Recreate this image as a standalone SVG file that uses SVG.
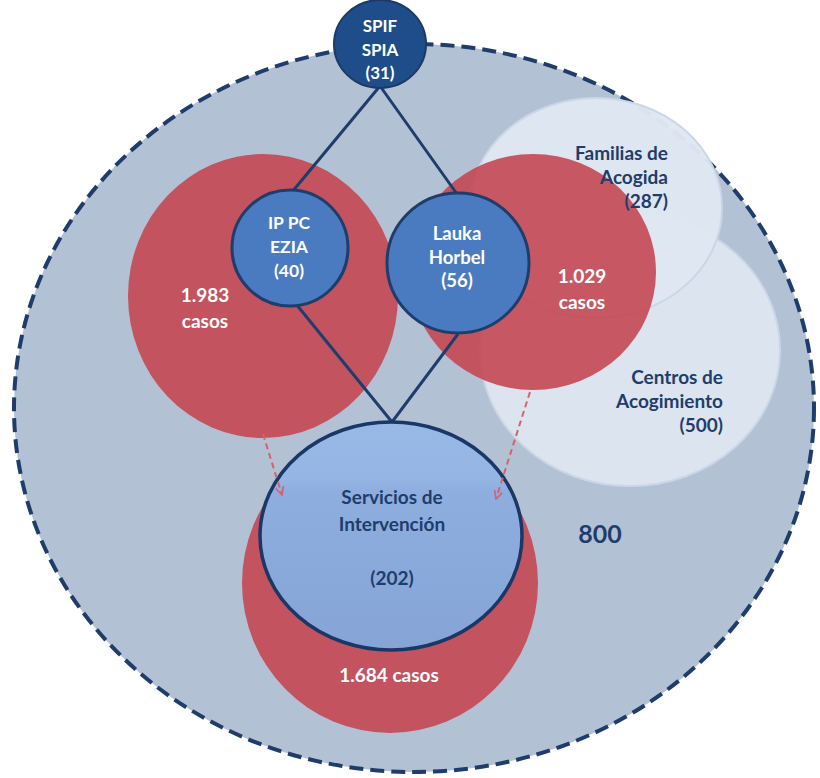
<svg xmlns="http://www.w3.org/2000/svg" width="820" height="778" viewBox="0 0 820 778">
<defs>
<style>
.t{font-family:Lato,"Open Sans","Liberation Sans",sans-serif;font-weight:bold;}
.w{fill:#ffffff;text-anchor:middle;}
.n{fill:#1f3d6b;font-size:19px;}
.red{fill:#c4434f;fill-opacity:0.88;}
.light{fill:#dfe7f2;stroke:#cbd7e8;stroke-width:2;}
.node{fill:#4a7bc0;stroke:#1f3d6b;stroke-width:3;}
.link{stroke:#1f3d6b;stroke-width:3;fill:none;}
.flow{stroke:#d5616b;stroke-width:2;stroke-dasharray:6 4;fill:none;marker-end:url(#chev);}
</style>
<marker id="chev" viewBox="0 0 10 10" refX="9" refY="5" markerWidth="10" markerHeight="10" orient="auto" markerUnits="userSpaceOnUse">
<path d="M1,1 L9,5 L1,9" fill="none" stroke="#d5616b" stroke-width="1.6"/>
</marker>
<linearGradient id="sg" x1="0" y1="0" x2="0" y2="1">
<stop offset="0" stop-color="#98b8e6"/>
<stop offset="0.25" stop-color="#95b5e4"/>
<stop offset="0.3" stop-color="#8eaee0"/>
<stop offset="1" stop-color="#86a4d6"/>
</linearGradient>
</defs>
<rect width="820" height="778" fill="#ffffff"/>
<g id="total">
<ellipse cx="414" cy="408" rx="400" ry="364" fill="#b3c1d5" stroke="#1f3d6b" stroke-width="4" stroke-dasharray="14 7"/>
<text class="t" x="600" y="543" font-size="25" fill="#1f3d6b" text-anchor="middle">800</text>
</g>
<g id="centros">
<ellipse class="light" cx="630" cy="350" rx="150" ry="136" fill-opacity="0.92"/>
</g>
<g id="familias">
<ellipse class="light" cx="596" cy="208" rx="126" ry="110" fill-opacity="0.97"/>
</g>
<g id="casos-1983">
<ellipse class="red" cx="263" cy="296" rx="135" ry="142"/>
</g>
<g id="casos-1029">
<ellipse class="red" cx="533" cy="272" rx="123" ry="118"/>
</g>
<g id="casos-1684">
<ellipse class="red" cx="390" cy="583" rx="148" ry="150"/>
</g>
<g id="light-labels">
<text class="t n" x="668" y="160" text-anchor="end">Familias de</text>
<text class="t n" x="668" y="184" text-anchor="end">Acogida</text>
<text class="t n" x="668" y="208" text-anchor="end">(287)</text>
<text class="t n" x="723" y="384" text-anchor="end">Centros de</text>
<text class="t n" x="723" y="408" text-anchor="end">Acogimiento</text>
<text class="t n" x="723" y="432" text-anchor="end">(500)</text>
</g>
<g id="red-labels" font-size="19">
<text class="t w" x="205" y="302">1.983</text>
<text class="t w" x="205" y="328">casos</text>
<text class="t w" x="582" y="283">1.029</text>
<text class="t w" x="582" y="309">casos</text>
<text class="t w" x="389" y="682">1.684 casos</text>
</g>
<g id="connectors">
<line class="link" x1="380" y1="86" x2="292" y2="192"/>
<line class="link" x1="380" y1="86" x2="457" y2="194"/>
<line class="link" x1="296" y1="304" x2="392" y2="422"/>
<line class="link" x1="458" y1="334" x2="392" y2="422"/>
</g>
<g id="spif">
<ellipse cx="380" cy="44" rx="46" ry="44" fill="#1f4d8a" stroke="#1c3a66" stroke-width="2"/>
<text class="t w" font-size="17" x="380" y="32">SPIF</text>
<text class="t w" font-size="17" x="380" y="56">SPIA</text>
<text class="t w" font-size="17" x="380" y="79">(31)</text>
</g>
<g id="ippc">
<circle class="node" cx="290" cy="248" r="58"/>
<text class="t w" font-size="17.5" x="289" y="229">IP PC</text>
<text class="t w" font-size="17.5" x="289" y="253">EZIA</text>
<text class="t w" font-size="17.5" x="289" y="277">(40)</text>
</g>
<g id="lauka">
<ellipse class="node" cx="458" cy="263" rx="71" ry="70"/>
<text class="t w" font-size="18.5" x="457" y="240">Lauka</text>
<text class="t w" font-size="18.5" x="457" y="264">Horbel</text>
<text class="t w" font-size="18.5" x="457" y="287">(56)</text>
</g>
<g id="servicios">
<ellipse cx="391" cy="536" rx="131" ry="114" fill="url(#sg)" stroke="#1a3766" stroke-width="3.5"/>
<text class="t n" font-size="20" x="392" y="504" text-anchor="middle">Servicios de</text>
<text class="t n" font-size="20" x="392" y="531" text-anchor="middle">Intervención</text>
<text class="t n" font-size="20" x="392" y="585" text-anchor="middle">(202)</text>
</g>
<g id="flows">
<line class="flow" x1="263" y1="434" x2="282" y2="495"/>
<line class="flow" x1="530" y1="392" x2="496" y2="499"/>
</g>
</svg>
